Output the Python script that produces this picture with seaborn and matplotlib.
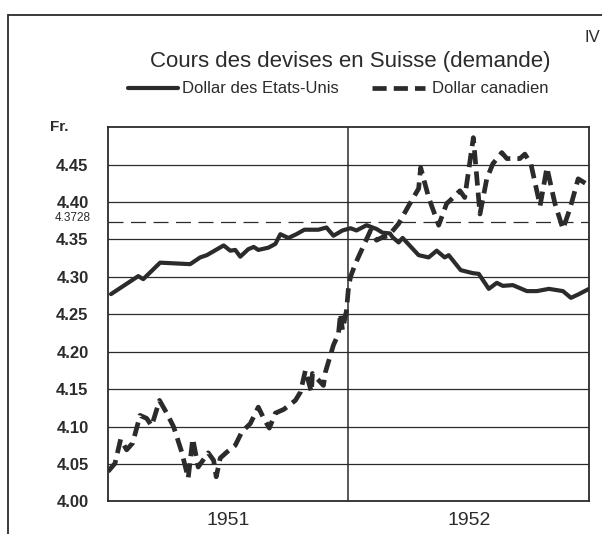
import matplotlib
matplotlib.use("Agg")
import matplotlib.pyplot as plt
from matplotlib.lines import Line2D
import numpy as np
import pandas as pd
import seaborn as sns

# months since 1 Jan 1951, values in Fr.
usd_month = [0.15, 1.51, 1.76, 2.6, 4.1, 4.6, 4.93, 5.77, 6.1, 6.35, 6.6, 7.0, 7.27, 7.5,
             8.0, 8.35, 8.6, 9.0, 9.4, 9.8, 10.5, 10.9, 11.25, 11.7, 12.1, 12.4, 12.9,
             13.4, 13.7, 14.07, 14.2, 14.5, 14.7, 15.5, 16.0, 16.4, 16.8, 17.0, 17.6,
             18.2, 18.5, 19.0, 19.4, 19.7, 20.2, 20.9, 21.4, 22.0, 22.7, 23.1, 23.5, 24.0]
usd_rate = [4.277, 4.301, 4.297, 4.319, 4.317, 4.326, 4.329, 4.342, 4.335, 4.336, 4.327,
            4.337, 4.340, 4.336, 4.339, 4.344, 4.357, 4.352, 4.357, 4.363, 4.363, 4.366,
            4.355, 4.362, 4.365, 4.362, 4.369, 4.364, 4.359, 4.358, 4.353, 4.346, 4.352,
            4.329, 4.326, 4.335, 4.326, 4.329, 4.309, 4.305, 4.304, 4.284, 4.292, 4.288,
            4.289, 4.281, 4.281, 4.284, 4.281, 4.272, 4.277, 4.284]

cad_month = [0.0, 0.35, 0.63, 0.93, 1.23, 1.6, 1.93, 2.18, 2.57, 2.93, 3.27, 3.68, 4.0,
             4.23, 4.5, 5.0, 5.27, 5.4, 5.6, 5.93, 6.35, 6.68, 7.1, 7.5, 7.77, 8.05, 8.35,
             8.77, 9.35, 9.6, 9.85, 10.15, 10.2, 10.75, 10.85, 11.25, 11.5, 11.6, 11.7,
             11.9, 12.0, 12.1, 12.35, 13.1, 13.4, 13.7, 14.0, 14.5, 15.0, 15.5, 15.6,
             16.0, 16.5, 16.9, 17.07, 17.56, 17.8, 18.23, 18.56, 18.9, 19.2, 19.65, 19.9,
             20.55, 20.8, 21.1, 21.56, 21.9, 22.3, 22.7, 23.05, 23.46, 24.0]
cad_rate = [4.040, 4.051, 4.083, 4.069, 4.078, 4.115, 4.111, 4.101, 4.135, 4.118, 4.100,
            4.066, 4.031, 4.084, 4.046, 4.065, 4.055, 4.033, 4.058, 4.066, 4.075, 4.093,
            4.104, 4.126, 4.111, 4.098, 4.118, 4.123, 4.135, 4.146, 4.175, 4.146, 4.171,
            4.155, 4.173, 4.209, 4.224, 4.251, 4.229, 4.255, 4.286, 4.300, 4.318, 4.362,
            4.349, 4.353, 4.355, 4.371, 4.395, 4.418, 4.446, 4.406, 4.369, 4.398, 4.402,
            4.415, 4.406, 4.486, 4.384, 4.431, 4.451, 4.466, 4.458, 4.458, 4.464, 4.451,
            4.395, 4.446, 4.398, 4.364, 4.391, 4.431, 4.422]

parity = 4.3728
y_ticks = [4.00, 4.05, 4.10, 4.15, 4.20, 4.25, 4.30, 4.35, 4.40, 4.45]
years = ["1951", "1952"]

usd = pd.DataFrame({"month": usd_month, "rate": usd_rate})
cad = pd.DataFrame({"month": cad_month, "rate": cad_rate})

sns.set_style("white")
plt.rcParams["font.family"] = ["Liberation Sans", "DejaVu Sans"]
ink = "#2b2b2b"
cad_dash = (3.0, 1.5)

fig = plt.figure(figsize=(6.02, 5.34), dpi=100)
ax = fig.add_axes([0.1794, 0.0609, 0.799, 0.701])

for v in y_ticks[1:]:
    ax.axhline(v, color=ink, lw=0.9, zorder=1)
ax.axhline(parity, color=ink, lw=0.9, dashes=(12, 6), zorder=1)
ax.axvline(12, color=ink, lw=1.1, zorder=1)

sns.lineplot(data=usd, x="month", y="rate", ax=ax, color=ink, lw=3.0, zorder=3)
sns.lineplot(data=cad, x="month", y="rate", ax=ax, color=ink, lw=3.4,
             zorder=3).lines[-1].set_dashes(cad_dash)

ax.set_xlim(0, 24)
ax.set_ylim(4.0, 4.5)
ax.set_xlabel("")
ax.set_ylabel("")
for s in ax.spines.values():
    s.set_color(ink)
    s.set_linewidth(1.3)

ax.set_yticks(y_ticks)
ax.set_yticklabels([f"{v:.2f}" for v in y_ticks], fontsize=12, fontweight="bold",
                   color=ink)
ax.tick_params(axis="y", length=0, pad=14)

ax.set_xticks(np.arange(1, 24), minor=True)
ax.set_xticks([3, 6, 9, 15, 18, 21])
ax.set_xticklabels([])
ax.tick_params(axis="x", which="major", direction="in", length=10, width=1, color=ink)
ax.tick_params(axis="x", which="minor", direction="in", length=6, width=1, color=ink)
for i, y in enumerate(years):
    ax.text(6 + 12 * i, -0.05, y, transform=ax.get_xaxis_transform(),
            ha="center", va="center", fontsize=14, color=ink)

ax.text(-0.11, parity + 0.006, "4.3728", transform=ax.get_yaxis_transform(),
        ha="left", va="center", fontsize=8.5, color=ink)
fig.text(0.083, 0.762, "Fr.", ha="left", va="center", fontsize=11, fontweight="bold",
         color=ink)

fig.text(0.582, 0.884, "Cours des devises en Suisse (demande)", ha="center",
         va="center", fontsize=16, color=ink)

# legend drawn as a key row under the title
fig.add_artist(Line2D([0.2126, 0.2957], [0.835, 0.835], transform=fig.transFigure,
                      color=ink, lw=3.0))
fig.text(0.3023, 0.835, "Dollar des Etats-Unis", ha="left", va="center",
         fontsize=12, color=ink)
fig.add_artist(Line2D([0.618, 0.706], [0.835, 0.835], transform=fig.transFigure,
                      color=ink, lw=3.4, dashes=cad_dash))
fig.text(0.7176, 0.835, "Dollar canadien", ha="left", va="center",
         fontsize=12, color=ink)

# outer frame of the page
fig.add_artist(Line2D([0.013, 1.0], [0.972, 0.972], transform=fig.transFigure,
                      color=ink, lw=1.3))
fig.add_artist(Line2D([0.013, 0.013], [0.0, 0.972], transform=fig.transFigure,
                      color=ink, lw=1.3))
fig.text(0.997, 0.929, "IV", ha="right", va="center", fontsize=12, color=ink)

fig.savefig("out.png", dpi=100)
